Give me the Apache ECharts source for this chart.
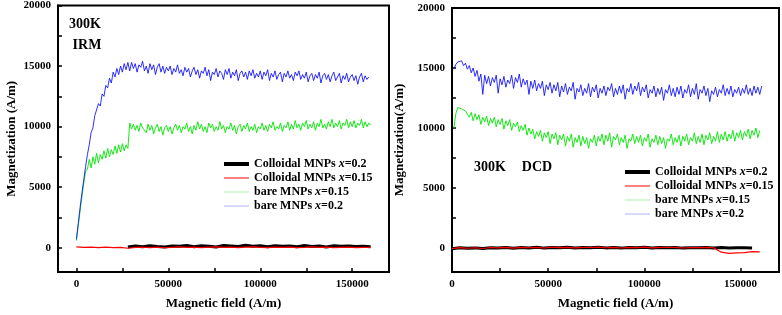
<!DOCTYPE html>
<html>
<head>
<meta charset="utf-8">
<title>IRM / DCD magnetization</title>
<script src="https://cdn.jsdelivr.net/npm/echarts@6/dist/echarts.min.js"></script>
<style>
  html, body { margin: 0; padding: 0; background: #fff; }
  #chart { width: 782px; height: 315px; }
</style>
</head>
<body>
<div id="chart"></div>
<script>
// magnetic field sampling (A/m) for the bare MNP curves
var field = [
  0, 1000, 2000, 3000, 4000, 5000, 6000, 7000, 8000, 9000,
  10000, 11000, 12000, 13000, 14000, 15000, 16000, 17000, 18000, 19000,
  20000, 21000, 22000, 23000, 24000, 25000, 26000, 27000, 28000, 29000,
  30000, 31000, 32000, 33000, 34000, 35000, 36000, 37000, 38000, 39000,
  40000, 41000, 42000, 43000, 44000, 45000, 46000, 47000, 48000, 49000,
  50000, 51000, 52000, 53000, 54000, 55000, 56000, 57000, 58000, 59000,
  60000, 61000, 62000, 63000, 64000, 65000, 66000, 67000, 68000, 69000,
  70000, 71000, 72000, 73000, 74000, 75000, 76000, 77000, 78000, 79000,
  80000, 81000, 82000, 83000, 84000, 85000, 86000, 87000, 88000, 89000,
  90000, 91000, 92000, 93000, 94000, 95000, 96000, 97000, 98000, 99000,
  100000, 101000, 102000, 103000, 104000, 105000, 106000, 107000, 108000, 109000,
  110000, 111000, 112000, 113000, 114000, 115000, 116000, 117000, 118000, 119000,
  120000, 121000, 122000, 123000, 124000, 125000, 126000, 127000, 128000, 129000,
  130000, 131000, 132000, 133000, 134000, 135000, 136000, 137000, 138000, 139000,
  140000, 141000, 142000, 143000, 144000, 145000, 146000, 147000, 148000, 149000,
  150000, 151000, 152000, 153000, 154000, 155000, 156000, 157000, 158000, 159000,
  160000, 161000
];

// magnetic field sampling (A/m) for the colloidal curves
var fieldColloid = [
  0, 4000, 8000, 12000, 16000, 20000, 24000, 28000, 32000, 36000,
  40000, 44000, 48000, 52000, 56000, 60000, 64000, 68000, 72000, 76000,
  80000, 84000, 88000, 92000, 96000, 100000, 104000, 108000, 112000, 116000,
  120000, 124000, 128000, 132000, 136000, 140000, 144000, 148000, 152000, 156000,
  160000
];

// ---- IRM (left panel) ----
var irmBare02 = [
  700, 2000, 3300, 4500, 5600, 6700, 7700, 8500, 9500, 9900,
  10900, 10800, 11900, 11700, 12700, 12500, 13400, 13200, 14000, 13600,
  14500, 14100, 14800, 14300, 15000, 14500, 15200, 14700, 15300, 14600,
  15300, 14800, 15200, 14500, 15100, 14900, 15400, 14600, 15000, 14400,
  15200, 14700, 15100, 14300, 14900, 15200, 14500, 15000, 14400, 14900,
  14600, 15000, 14300, 14800, 14500, 15100, 14400, 14700, 14200, 14900,
  14500, 14800, 14100, 14600, 14900, 14300, 14700, 14000, 14600, 14400,
  14900, 14200, 14700, 13800, 14500, 14300, 14800, 14100, 14600, 14400,
  13900, 14700, 14300, 14800, 14000, 14500, 14200, 14700, 13800, 14400,
  14600, 14100, 14500, 13900, 14600, 14200, 14700, 14000, 14400, 14100,
  14600, 13900, 14500, 14200, 14700, 13800, 14400, 14100, 14600, 13900,
  14300, 14500, 13700, 14400, 14100, 14600, 14000, 14300, 13800, 14500,
  14200, 14600, 13900, 14300, 14000, 14500, 13700, 14200, 14400, 13800,
  14300, 14000, 14500, 13600, 14200, 14400, 13900, 14300, 13700, 14200,
  14500, 13800, 14100, 14400, 13600, 14200, 13900, 14400, 13700, 14100,
  14300, 13800, 14200, 13500, 14100, 14400, 13700, 14200, 13900, 14100,
  null, null
];
var irmBare015 = [
  600, 1800, 3000, 4200, 5300, 6300, 6500, 7300, 6600, 7500,
  6900, 7800, 7000, 7700, 7300, 8000, 7400, 8200, 7500, 8100,
  7700, 8400, 7800, 8500, 7900, 8600, 8000, 8500, 8200, 10300,
  9800, 10200, 9700, 10100, 9600, 10300, 9900, 10000, 9500, 10200,
  9700, 10100, 9400, 9900, 10200, 9600, 10000, 9300, 9900, 10100,
  9600, 10000, 9400, 9900, 10200, 9700, 10100, 9500, 10000, 9800,
  10300, 9600, 10000, 9400, 10100, 9700, 10400, 9800, 10200, 9600,
  10000, 9500, 10300, 9900, 10200, 9600, 10000, 9700, 10400, 9800,
  10100, 9500, 10000, 9800, 10300, 9700, 10100, 9400, 10000, 10200,
  9600, 10100, 9800, 10300, 9600, 10000, 9700, 10200, 9500, 10000,
  9800, 10300, 9700, 10100, 9600, 10200, 9900, 10400, 9700, 10000,
  9800, 10300, 9600, 10100, 9900, 10400, 9700, 10200, 9800, 10500,
  9900, 10200, 9700, 10300, 10000, 10500, 9800, 10200, 9900, 10400,
  9700, 10300, 10000, 10600, 9900, 10200, 9800, 10400, 10000, 10600,
  9900, 10300, 10000, 10500, 9800, 10300, 10100, 10600, 9900, 10400,
  10000, 10500, 9900, 10300, 10100, 10600, 9900, 10400, 10000, 10300,
  10100, null
];
var irmColloid02 = [
  null, null, null, null, null, null, null, 60, 140, 80,
  170, 110, 60, 150, 120, 190, 90, 160, 130, 70,
  180, 140, 100, 200, 120, 160, 80, 170, 130, 150,
  90, 180, 110, 140, 70, 160, 120, 150, 100, 130,
  90
];
var irmColloid015 = [
  80, 30, 60, 20, 50, 10, 40, -40, 30, 60,
  20, 50, 0, 40, 70, 30, 60, 10, 50, 80,
  30, 60, 20, 50, 70, 40, 10, 50, 30, 60,
  20, 40, 70, 30, 50, 10, 40, 60, 20, 40,
  30
];

// ---- DCD (right panel) ----
var dcdBare02 = [
  null, 14900, 15300, 15500, 15400, 15600, 15200, 15400, 14900, 15200,
  14600, 15000, 14300, 14800, 13900, 14500, 12800, 14400, 13700, 14300,
  13500, 14200, 13800, 14400, 12900, 14100, 13600, 14300, 13400, 14000,
  13700, 14400, 13300, 14200, 13800, 14500, 13400, 14100, 13600, 14000,
  12800, 13900, 13300, 14000, 13100, 13700, 13300, 13900, 12700, 13600,
  13200, 13800, 12900, 13600, 13100, 13800, 12600, 13500, 13000, 13700,
  12800, 13400, 13100, 13800, 12400, 13300, 13000, 13600, 12700, 13300,
  12900, 13700, 12600, 13400, 13000, 13600, 12500, 13300, 12900, 13500,
  12700, 13400, 13100, 13700, 12600, 13300, 12800, 13500, 12900, 13600,
  12400, 13300, 13000, 13700, 12800, 13500, 13100, 13800, 12700, 13400,
  13000, 13600, 12500, 13200, 12900, 13500, 12600, 13300, 12800, 13400,
  12300, 13200, 12900, 13600, 12700, 13300, 12600, 13400, 12800, 13500,
  12500, 13200, 12900, 13600, 12600, 13300, 12800, 13700, 12400, 13200,
  12900, 13500, 12700, 13300, 12200, 13100, 12800, 13400, 12600, 13200,
  12900, 13600, 12700, 13300, 12800, 13500, 12600, 13200, 12900, 13400,
  12700, 13300, 12900, 13600, 12800, 13300, 12700, 13500, 12900, 13400,
  12800, 13500
];
var dcdBare015 = [
  null, 10000, 11200, 11700, 11800, 11600, 11700, 11400, 11500, 10900,
  11300, 10600, 11200, 10700, 11100, 10300, 10900, 10500, 11000, 10200,
  10800, 10400, 10900, 10100, 10700, 10300, 10800, 9900, 10600, 10200,
  10700, 9800, 10400, 10100, 10500, 9700, 10200, 9800, 10300, 9400,
  10000, 9500, 9900, 9100, 9700, 9300, 9800, 8900, 9600, 9200,
  9700, 8700, 9500, 9100, 9600, 8600, 9400, 9000, 9500, 8500,
  9300, 8900, 9500, 8400, 9200, 8800, 9400, 8500, 9300, 8700,
  9200, 8300, 9100, 8800, 9400, 8500, 9300, 8900, 9500, 8600,
  9400, 8900, 9600, 8400, 9300, 9000, 9500, 8600, 9200, 8800,
  9400, 8300, 9100, 8900, 9500, 8700, 9300, 8800, 9400, 8500,
  9200, 8900, 9500, 8400, 9100, 8800, 9400, 8600, 9300, 8700,
  9200, 8300, 9100, 8900, 9500, 8600, 9200, 8800, 9400, 8500,
  9300, 8900, 9500, 8600, 9200, 8900, 9600, 8700, 9300, 8800,
  9500, 8600, 9400, 9000, 9600, 8700, 9300, 8900, 9700, 8800,
  9500, 9000, 9700, 8900, 9500, 9100, 9800, 8900, 9600, 9200,
  9800, 9000, 9700, 9300, 9900, 9100, 9800, 9400, 10000, 9200,
  9800, null
];
var dcdColloid02 = [
  -60, 20, -30, 10, -50, 30, 0, 40, -20, 50,
  10, 60, -10, 40, 20, 60, 0, 50, 30, 70,
  10, 40, -10, 50, 20, 60, 0, 40, 30, 50,
  -10, 30, 20, 50, 10, 40, 0, 30, 20, 10,
  null
];
var dcdColloid015 = [
  -50, 30, -20, 20, -40, 40, 10, 50, -10, 60,
  20, 50, 0, 70, 30, 60, 10, 50, 40, 80,
  20, 50, 0, 60, 30, 70, 10, 50, 40, 60,
  0, 40, 30, 60, 20, -350, -450, -400, -380, -300,
  -320
];

// tick positions / labels
var xTicks = [0, 25000, 50000, 75000, 100000, 125000, 150000];
var xLabels = [0, 50000, 100000, 150000];
var yTicks = [0, 2500, 5000, 7500, 10000, 12500, 15000, 17500, 20000];
var yLabels = [0, 5000, 10000, 15000, 20000];

var seriesNames = ['Colloidal MNPs x=0.2', 'Colloidal MNPs x=0.15', 'bare MNPs x=0.15', 'bare MNPs x=0.2'];

var serif = '"Liberation Serif", "Times New Roman", serif';

function pairs(xs, ys) {
  return xs.map(function (x, i) { return [x, ys[i] === undefined ? null : ys[i]]; });
}

// plain numbers, no thousands separator
function plain(v) { return String(v); }

function xAxisFor(idx, min) {
  return {
    gridIndex: idx, type: 'value', min: min, max: 170000,
    name: 'Magnetic field (A/m)', nameLocation: 'middle', nameGap: 25,
    nameTextStyle: { fontFamily: serif, fontWeight: 'bold', fontSize: 13, color: '#000' },
    axisLine: { onZero: false, lineStyle: { color: '#000', width: 2 } },
    axisTick: { inside: true, length: 4, customValues: xTicks, lineStyle: { color: '#000', width: 1.5 } },
    axisLabel: { customValues: xLabels, formatter: plain, margin: 7, fontFamily: serif, fontWeight: 'bold', fontSize: 11, color: '#000' },
    splitLine: { show: false }
  };
}

function yAxisFor(idx, title, gap) {
  return {
    gridIndex: idx, type: 'value', min: -2000, max: 20000,
    name: title, nameLocation: 'middle', nameGap: gap,
    nameTextStyle: { fontFamily: serif, fontWeight: 'bold', fontSize: 13, color: '#000' },
    axisLine: { onZero: false, lineStyle: { color: '#000', width: 2 } },
    axisTick: { inside: true, length: 4, customValues: yTicks, lineStyle: { color: '#000', width: 1.5 } },
    axisLabel: { customValues: yLabels, formatter: plain, margin: 7, fontFamily: serif, fontWeight: 'bold', fontSize: 11, color: '#000' },
    splitLine: { show: false }
  };
}

function line(name, idx, xs, ys, color, width, opacity) {
  return {
    name: name, type: 'line', xAxisIndex: idx, yAxisIndex: idx,
    data: pairs(xs, ys), symbol: 'none', showSymbol: false,
    lineStyle: { color: color, width: width, opacity: opacity },
    itemStyle: { color: color }
  };
}

function legendFor(left, top) {
  return {
    orient: 'vertical', left: left, top: top,
    itemWidth: 25, itemHeight: 14, itemGap: 2,
    itemStyle: { opacity: 0 },  // hide the circle, keep only the line
    data: [
      { name: seriesNames[0], lineStyle: { width: 4 } },
      { name: seriesNames[1], lineStyle: { width: 1 } },
      { name: seriesNames[2], lineStyle: { width: 1, color: '#9ef09e' } },
      { name: seriesNames[3], lineStyle: { width: 1, color: '#a6a6ff' } }
    ],
    formatter: function (name) { return name.replace(' x=', ' {i|x}='); },
    textStyle: {
      fontFamily: serif, fontWeight: 'bold', fontSize: 12, color: '#000',
      rich: { i: { fontFamily: serif, fontWeight: 'bold', fontStyle: 'italic', fontSize: 12, color: '#000' } }
    }
  };
}

function label(text, x, y) {
  return {
    type: 'text', x: x, y: y,
    style: { text: text, fill: '#000', font: 'bold 14px ' + serif, align: 'center', verticalAlign: 'middle' }
  };
}

var chart = echarts.init(document.getElementById('chart'));

var option = {
  animation: false,
  backgroundColor: '#fff',
  grid: [
    { left: 58, top: 5, width: 331, height: 267, show: true, borderColor: '#000', borderWidth: 2 },
    { left: 452, top: 8, width: 327, height: 265, show: true, borderColor: '#000', borderWidth: 2 }
  ],
  xAxis: [xAxisFor(0, -10000), xAxisFor(1, 0)],
  yAxis: [yAxisFor(0, 'Magnetization (A/m)', 40), yAxisFor(1, 'Magnetization(A/m)', 46)],
  legend: [legendFor(217, 153), legendFor(618, 161)],
  graphic: [
    label('300K', 85, 24),
    label('IRM', 87, 45),
    label('300K', 490, 167),
    label('DCD', 537, 167)
  ],
  series: [
    line(seriesNames[0], 0, fieldColloid, irmColloid02, '#000000', 3, 1),
    line(seriesNames[1], 0, fieldColloid, irmColloid015, '#ff0000', 1.2, 1),
    line(seriesNames[2], 0, field, irmBare015, '#00e600', 1, 0.9),
    line(seriesNames[3], 0, field, irmBare02, '#0a0aff', 1, 0.85),
    line(seriesNames[0], 1, fieldColloid, dcdColloid02, '#000000', 3, 1),
    line(seriesNames[1], 1, fieldColloid, dcdColloid015, '#ff0000', 1.2, 1),
    line(seriesNames[2], 1, field, dcdBare015, '#00e600', 1, 0.9),
    line(seriesNames[3], 1, field, dcdBare02, '#0a0aff', 1, 0.85)
  ]
};

chart.setOption(option);
</script>
</body>
</html>
